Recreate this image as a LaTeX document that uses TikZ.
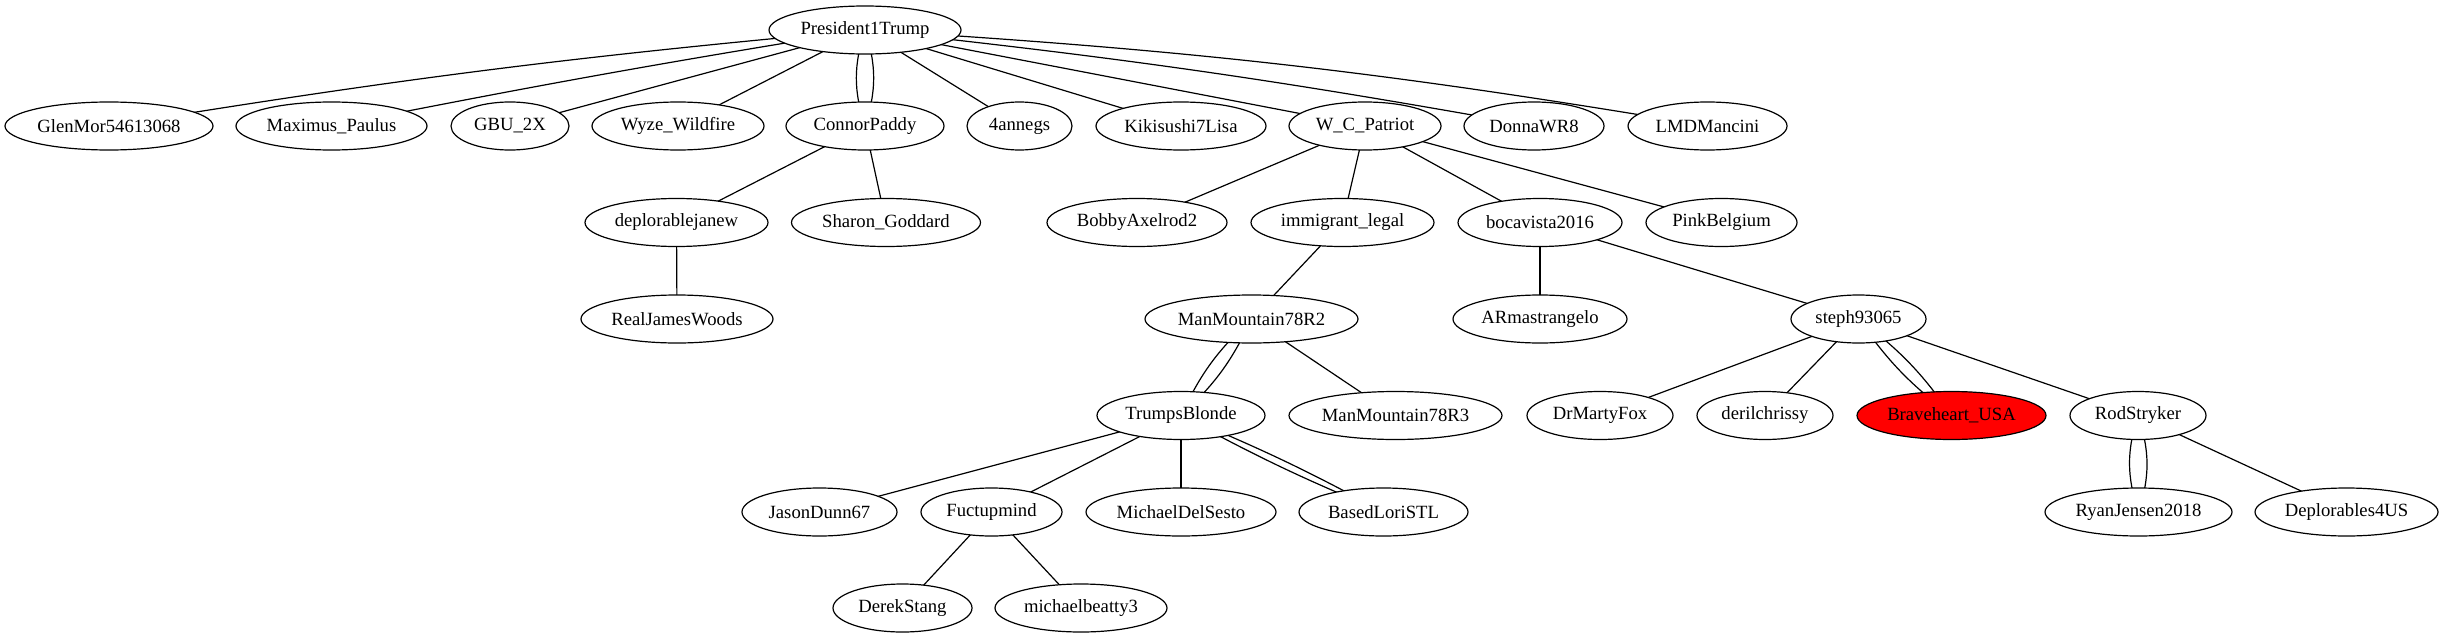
\documentclass[tikz,border=0pt]{standalone}
\usepackage{fontspec}
\setmainfont{Liberation Serif}
\usetikzlibrary{shapes.geometric}
\pgfdeclarelayer{bg}
\pgfsetlayers{bg,main}
\begin{document}
\begin{tikzpicture}[x=0.75pt,y=-0.75pt,
  nd/.style={ellipse, draw, fill=white, line width=0.9pt, minimum height=36pt,
    inner sep=0pt, minimum width=#1*0.75pt, font=\fontsize{14pt}{16pt}\selectfont},
  ed/.style={line width=0.9pt}]
\useasboundingbox (0,0) rectangle (2443,635);
% row 1
\node[nd=192] (p) at (865,30) {President1Trump};
% row 2
\node[nd=208] (glen) at (109,126) {GlenMor54613068};
\node[nd=191] (maxp) at (331.5,126) {Maximus\_Paulus};
\node[nd=118] (gbu) at (510,126) {GBU\_2X};
\node[nd=172] (wyze) at (678,126) {Wyze\_Wildfire};
\node[nd=158] (connor) at (865,126) {ConnorPaddy};
\node[nd=105] (anne) at (1019.5,126) {4annegs};
\node[nd=170] (kiki) at (1181,126) {Kikisushi7Lisa};
\node[nd=152] (wcp) at (1365,126) {W\_C\_Patriot};
\node[nd=140] (donna) at (1534,126) {DonnaWR8};
\node[nd=159] (lmd) at (1707.5,126) {LMDMancini};
% row 3
\node[nd=183] (depj) at (676.5,222.5) {deplorablejanew};
\node[nd=189] (sharon) at (886,222.5) {Sharon\_Goddard};
\node[nd=180] (bobby) at (1137,222.5) {BobbyAxelrod2};
\node[nd=183] (immig) at (1342.5,222.5) {immigrant\_legal};
\node[nd=164] (boca) at (1540,222.5) {bocavista2016};
\node[nd=151] (pink) at (1721.5,222.5) {PinkBelgium};
% row 4
\node[nd=192] (rjw) at (677,319) {RealJamesWoods};
\node[nd=213] (mmtwo) at (1251.5,319) {ManMountain78R2};
\node[nd=174] (arm) at (1540,319) {ARmastrangelo};
\node[nd=135] (steph) at (1858.5,319) {steph93065};
% row 5
\node[nd=168] (tb) at (1181,415.5) {TrumpsBlonde};
\node[nd=213] (mmthree) at (1395.5,415.5) {ManMountain78R3};
\node[nd=146] (drm) at (1600,415.5) {DrMartyFox};
\node[nd=136] (deril) at (1765,415.5) {derilchrissy};
\node[nd=189, fill=red] (brave) at (1951.5,415.5) {Braveheart\_USA};
\node[nd=136] (rod) at (2138,415.5) {RodStryker};
% row 6
\node[nd=155] (jd) at (819.5,512) {JasonDunn67};
\node[nd=141] (fuct) at (991.5,512) {Fuctupmind};
\node[nd=190] (mds) at (1181,512) {MichaelDelSesto};
\node[nd=169] (blori) at (1383.5,512) {BasedLoriSTL};
\node[nd=187] (ryan) at (2138.5,512) {RyanJensen2018};
\node[nd=183] (depfour) at (2346.5,512) {Deplorables4US};
% row 7
\node[nd=139] (derek) at (902.5,608) {DerekStang};
\node[nd=172] (mbthree) at (1081,608) {michaelbeatty3};

\begin{pgfonlayer}{bg}
\draw[ed] (p.center) to[bend right=2] (glen.center);
\draw[ed] (p.center) to[bend right=1] (maxp.center);
\draw[ed] (p.center) -- (gbu.center);
\draw[ed] (p.center) -- (wyze.center);
\draw[ed] (p.center) to[bend left=18] (connor.center);
\draw[ed] (p.center) to[bend right=18] (connor.center);
\draw[ed] (p.center) -- (anne.center);
\draw[ed] (p.center) -- (kiki.center);
\draw[ed] (p.center) -- (wcp.center);
\draw[ed] (p.center) to[bend left=2] (donna.center);
\draw[ed] (p.center) to[bend left=3] (lmd.center);
\draw[ed] (connor.center) -- (depj.center);
\draw[ed] (connor.center) -- (sharon.center);
\draw[ed] (depj.center) -- (rjw.center);
\draw[ed] (wcp.center) -- (bobby.center);
\draw[ed] (wcp.center) -- (immig.center);
\draw[ed] (wcp.center) -- (boca.center);
\draw[ed] (wcp.center) -- (pink.center);
\draw[ed] (immig.center) -- (mmtwo.center);
\draw[ed] (boca.center) -- (arm.center);
\draw[ed] (boca.center) -- (steph.center);
\draw[ed] (mmtwo.center) to[bend left=11] (tb.center);
\draw[ed] (mmtwo.center) to[bend right=11] (tb.center);
\draw[ed] (mmtwo.center) -- (mmthree.center);
\draw[ed] (steph.center) -- (drm.center);
\draw[ed] (steph.center) -- (deril.center);
\draw[ed] (steph.center) to[bend left=9] (brave.center);
\draw[ed] (steph.center) to[bend right=9] (brave.center);
\draw[ed] (steph.center) -- (rod.center);
\draw[ed] (tb.center) -- (jd.center);
\draw[ed] (tb.center) -- (fuct.center);
\draw[ed] (tb.center) -- (mds.center);
\draw[ed] (tb.center) to[bend left=3] (blori.center);
\draw[ed] (tb.center) to[bend right=3] (blori.center);
\draw[ed] (rod.center) to[bend left=18] (ryan.center);
\draw[ed] (rod.center) to[bend right=18] (ryan.center);
\draw[ed] (rod.center) -- (depfour.center);
\draw[ed] (fuct.center) -- (derek.center);
\draw[ed] (fuct.center) -- (mbthree.center);
\end{pgfonlayer}
\end{tikzpicture}
\end{document}
